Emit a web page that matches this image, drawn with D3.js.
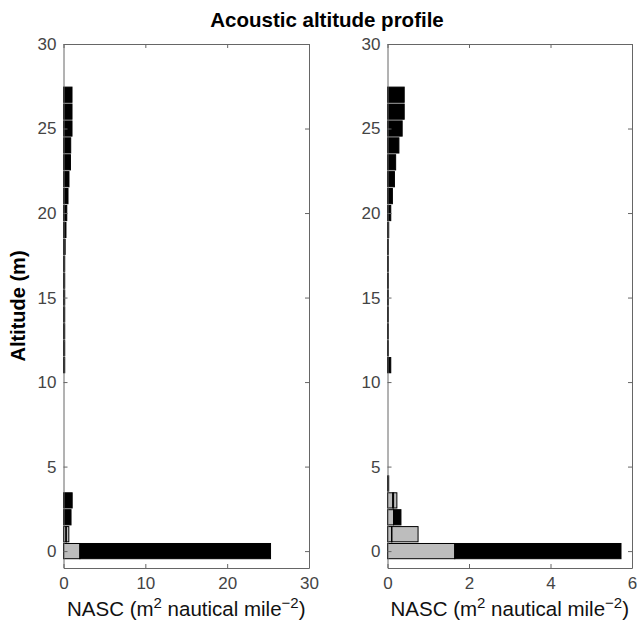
<!DOCTYPE html>
<html>
<head>
<meta charset="utf-8">
<script src="https://cdn.jsdelivr.net/npm/d3@7"></script>
<style>
  body { margin: 0; background: #fff; overflow: hidden; }
  svg { display: block; font-family: "Liberation Sans", Arial, sans-serif; }
</style>
</head>
<body>
<svg id="chart"></svg>
<script>
// altitude bins (m)
let altitudes = [0, 1, 2, 3, 4, 5, 6, 7, 8, 9, 10, 11, 12, 13, 14, 15, 16, 17, 18, 19, 20, 21, 22, 23, 24, 25, 26, 27];

// left panel, stacked segments (gray, black, gray)
let leftGray = [2.0, 0.3, 0, 0, 0, 0, 0, 0, 0, 0, 0, 0, 0, 0, 0, 0, 0, 0, 0, 0, 0, 0, 0, 0, 0, 0, 0, 0];
let leftBlack = [23.3, 0.05, 0.92, 1.06, 0, 0, 0, 0, 0, 0, 0, 0.15, 0.15, 0.15, 0.15, 0.15, 0.15, 0.15, 0.2, 0.3, 0.4, 0.55, 0.67, 0.85, 0.88, 1.04, 1.04, 1.04];
let leftGray2 = [0, 0.3, 0, 0, 0, 0, 0, 0, 0, 0, 0, 0, 0, 0, 0, 0, 0, 0, 0, 0, 0, 0, 0, 0, 0, 0, 0, 0];

// right panel
let rightGray = [1.65, 0.1, 0.15, 0.13, 0, 0, 0, 0, 0, 0, 0, 0, 0, 0, 0, 0, 0, 0, 0, 0, 0, 0, 0, 0, 0, 0, 0, 0];
let rightBlack = [4.08, 0.01, 0.18, 0.02, 0.03, 0, 0, 0, 0, 0, 0, 0.08, 0.02, 0.02, 0.02, 0.02, 0.02, 0.02, 0.02, 0.03, 0.08, 0.12, 0.17, 0.2, 0.28, 0.36, 0.41, 0.41];
let rightGray2 = [0, 0.64, 0, 0.08, 0, 0, 0, 0, 0, 0, 0, 0, 0, 0, 0, 0, 0, 0, 0, 0, 0, 0, 0, 0, 0, 0, 0, 0];

let yTicks = [0, 5, 10, 15, 20, 25, 30];
let leftXTicks = [0, 10, 20, 30];
let rightXTicks = [0, 2, 4, 6];

let width = 637;
let height = 622;
let plotTop = 44;
let plotBottom = 568;

let svg = d3.select("#chart").attr("width", width).attr("height", height);

let yScale = d3.scaleLinear().domain([-1, 30]).range([plotBottom, plotTop]);
let barH = yScale(0) - yScale(0.9);

let colors = ["#bdbdbd", "#000000", "#bdbdbd"];

let drawPanel = (x0, x1, xMax, xTicks, series) => {
  let xScale = d3.scaleLinear().domain([0, xMax]).range([x0, x1]);
  let g = svg.append("g");

  // stack the segments by hand
  let rows = altitudes.map((a, i) => {
    let start = 0;
    return series.map((s, k) => {
      let seg = { alt: a, x0: start, x1: start + s[i], k: k };
      start += s[i];
      return seg;
    });
  });
  let segs = rows.flat().filter((d) => d.x1 - d.x0 > 0);

  g.selectAll("rect")
    .data(segs)
    .enter()
    .append("rect")
    .attr("x", (d) => xScale(d.x0))
    .attr("y", (d) => yScale(d.alt) - barH / 2)
    .attr("width", (d) => xScale(d.x1) - xScale(d.x0))
    .attr("height", barH)
    .attr("fill", (d) => colors[d.k])
    .attr("stroke", "#000")
    .attr("stroke-width", 1);

  let axisStyle = (sel) => {
    sel.select(".domain").attr("stroke", "#666");
    sel.selectAll(".tick line").attr("stroke", "#666");
    sel.selectAll("text").attr("fill", "#444").style("font-size", "17px");
  };

  // left axis with labels, ticks pointing inward
  g.append("g")
    .attr("transform", "translate(" + x0 + ",0)")
    .call(d3.axisLeft(yScale).tickValues(yTicks).tickSize(-4).tickPadding(7).tickSizeOuter(0))
    .call(axisStyle);

  g.append("g")
    .attr("transform", "translate(" + x1 + ",0)")
    .call(d3.axisRight(yScale).tickValues(yTicks).tickSize(-4).tickSizeOuter(0).tickFormat(""))
    .call(axisStyle);

  g.append("g")
    .attr("transform", "translate(0," + plotBottom + ")")
    .call(d3.axisBottom(xScale).tickValues(xTicks).tickSize(-4).tickPadding(9).tickSizeOuter(0).tickFormat(d3.format("d")))
    .call(axisStyle);

  g.append("g")
    .attr("transform", "translate(0," + plotTop + ")")
    .call(d3.axisTop(xScale).tickValues(xTicks).tickSize(-4).tickSizeOuter(0).tickFormat(""))
    .call(axisStyle);

  // x axis label with superscripts
  let lab = g.append("text")
    .attr("x", (x0 + x1) / 2)
    .attr("y", 616)
    .attr("text-anchor", "middle")
    .style("font-size", "20.5px")
    .attr("fill", "#111");
  lab.append("tspan").text("NASC (m");
  lab.append("tspan").attr("dy", -8).style("font-size", "15px").text("2");
  lab.append("tspan").attr("dy", 8).text(" nautical mile");
  lab.append("tspan").attr("dy", -8).style("font-size", "15px").text("\u22122");
  lab.append("tspan").attr("dy", 8).text(")");
};

drawPanel(63.5, 309, 30, leftXTicks, [leftGray, leftBlack, leftGray2]);
drawPanel(387.5, 632, 6, rightXTicks, [rightGray, rightBlack, rightGray2]);

svg.append("text")
  .attr("x", 327)
  .attr("y", 27)
  .attr("text-anchor", "middle")
  .style("font-size", "20.5px")
  .style("font-weight", "bold")
  .text("Acoustic altitude profile");

svg.append("text")
  .attr("transform", "translate(25," + (plotTop + plotBottom) / 2 + ") rotate(-90)")
  .attr("text-anchor", "middle")
  .style("font-size", "20px")
  .style("font-weight", "bold")
  .text("Altitude (m)");
</script>
</body>
</html>
